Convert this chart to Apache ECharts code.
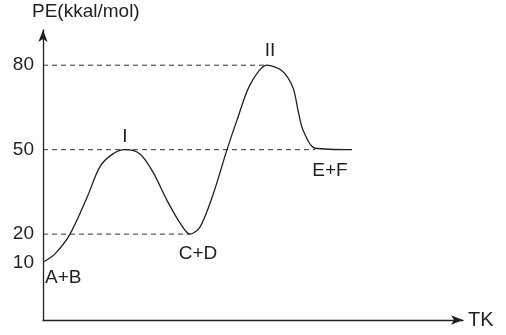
<!DOCTYPE html>
<html>
<head>
<meta charset="utf-8">
<script src="https://cdn.jsdelivr.net/npm/echarts@6/dist/echarts.min.js"></script>
<style>
  html, body { margin: 0; padding: 0; background: #fff; }
  #chart { width: 506px; height: 335px; }
</style>
</head>
<body>
<div id="chart"></div>
<script>
// reaction coordinate (arbitrary units) and potential energy
const pathX = [0, 12, 27, 44, 57, 70, 82, 97, 110, 124, 137, 147, 157, 170, 184, 194, 207, 224, 239, 250, 255, 260, 272, 309]
const pathPE = [10, 13, 20, 33, 44, 48.5, 50, 48.5, 42, 32, 24, 20, 22.5, 34, 50, 60.5, 73, 80, 78, 72, 64, 57, 50.5, 50]

// dashed guide levels and where each one stops
const guideLevels = [80, 50, 20]
const guideEnds = [224, 272, 147]
const tickValues = [10, 20, 50, 80]

// state labels
const stateNames = ['A+B', 'I', 'C+D', 'II', 'E+F']
const stateX = [0, 82, 147, 224, 272]
const statePE = [10, 50, 20, 80, 50]

const font = 'Liberation Sans, Arial, Helvetica, sans-serif'
const ink = '#231f20'

const chart = echarts.init(document.getElementById('chart'))

const guideSeries = guideLevels.map((lv, i) => ({
  type: 'line',
  data: [[0, lv], [guideEnds[i], lv]],
  symbol: 'none',
  silent: true,
  lineStyle: { color: '#333', width: 1, type: [5, 4] }
}))

// label offsets for each state [dx, dy]
const labelOffsets = [[2, 15], [0, -13], [8, 20], [3, -14], [15, 21]]

const option = {
  animation: false,
  backgroundColor: '#fff',
  // y axis name sits as a title so it can hang left of the axis
  title: {
    text: 'PE(kkal/mol)',
    left: 27,
    top: -3,
    textStyle: { color: ink, fontSize: 19, fontWeight: 'normal', fontFamily: font }
  },
  grid: { left: 43, right: 43, top: 30, bottom: 15, outerBoundsMode: 'none' },
  xAxis: {
    type: 'value',
    min: 0,
    max: 420,
    name: 'TK',
    nameGap: 5,
    nameTextStyle: { color: ink, fontSize: 20, fontFamily: font },
    axisLine: { show: true, onZero: false, lineStyle: { color: ink, width: 1.3 }, symbol: ['none', 'arrow'], symbolSize: [7, 12] },
    axisTick: { show: false },
    axisLabel: { show: false },
    splitLine: { show: false }
  },
  yAxis: {
    type: 'value',
    min: -10.5,
    max: 92.5,
    axisLine: { show: true, onZero: false, lineStyle: { color: ink, width: 1.3 }, symbol: ['none', 'arrow'], symbolSize: [7, 12] },
    axisTick: { show: false },
    axisLabel: {
      customValues: tickValues,
      color: ink,
      fontSize: 19,
      fontFamily: font,
      margin: 9
    },
    splitLine: { show: false }
  },
  series: [
    ...guideSeries,
    {
      type: 'line',
      data: pathX.map((x, i) => [x, pathPE[i]]),
      smooth: 0.3,
      symbol: 'none',
      lineStyle: { color: ink, width: 1.3 }
    },
    {
      type: 'scatter',
      symbolSize: 0,
      itemStyle: { opacity: 1 },
      data: stateX.map((x, i) => ({
        value: [x, statePE[i]],
        label: {
          show: true,
          formatter: stateNames[i],
          position: 'inside',
          offset: labelOffsets[i],
          align: i === 0 ? 'left' : 'center',
          color: ink,
          fontSize: 19,
          fontFamily: font
        }
      }))
    }
  ]
}

chart.setOption(option)
</script>
</body>
</html>
